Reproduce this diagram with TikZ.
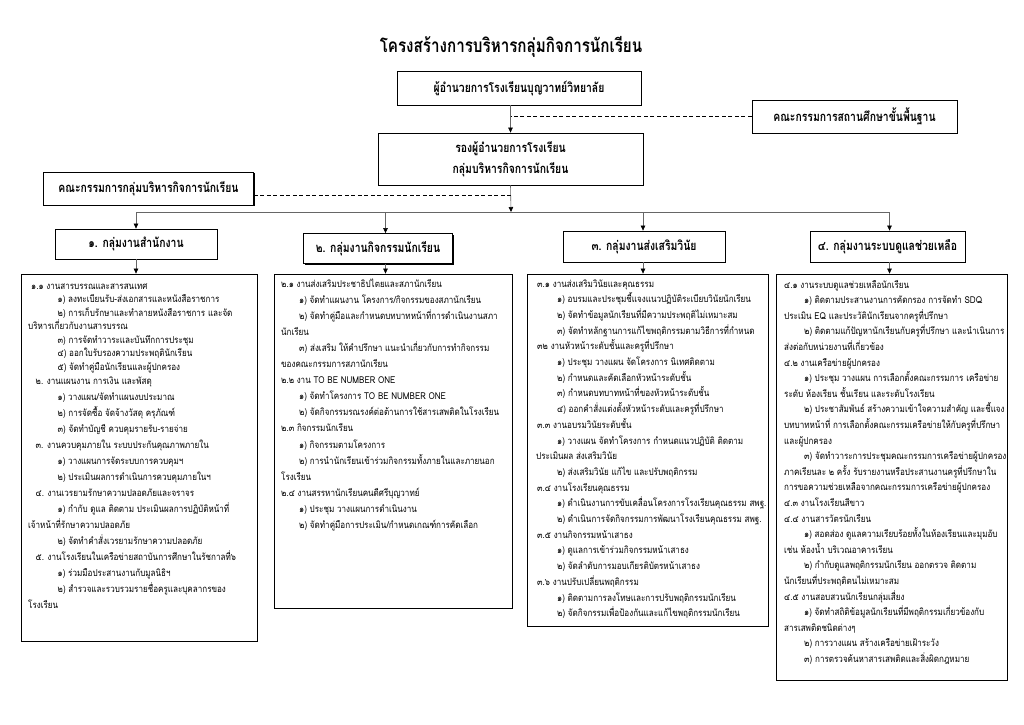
\documentclass[tikz,border=0pt]{standalone}
\usepackage{fontspec}
\setmainfont[Script=Thai]{Loma}
\newfontfamily\thhead[Script=Thai,FakeStretch=0.8]{Loma}
\newfontfamily\thbody[Script=Thai,FakeStretch=0.85]{Loma}
\usetikzlibrary{arrows.meta,shadows}
\begin{document}
\begin{tikzpicture}[x=1pt,y=-1pt,
  box/.style={draw=black,line width=0.8pt,fill=white,inner sep=0pt,align=center,
    drop shadow={shadow xshift=1.4pt,shadow yshift=-1.4pt,fill=black,opacity=1}},
  hfont/.style={font=\thhead\bfseries\fontsize{13}{21}\selectfont},
  conn/.style={draw=black!60,line width=0.6pt},
  arr/.style={conn,-{Triangle[length=5pt,width=4.5pt,color=black]}},
  dashline/.style={draw=black,line width=0.9pt,dash pattern=on 4pt off 2.5pt},
  txt/.style={anchor=base west,inner sep=0pt,font=\thbody\fontsize{9.5}{12}\selectfont}
]
\fill[white] (0,0) rectangle (1024,724);
\useasboundingbox (0,0) rectangle (1024,724);

\node[font=\thhead\bfseries\fontsize{19}{22}\selectfont] (title) at (511,47) {โครงสร้างการบริหารกลุ่มกิจการนักเรียน};

\node[box,hfont,minimum width=244pt,minimum height=34pt] (A) at (519,88) {ผู้อำนวยการโรงเรียนบุญวาทย์วิทยาลัย};
\node[box,hfont,minimum width=205pt,minimum height=33pt] (B) at (854.5,116.5) {คณะกรรมการสถานศึกษาขั้นพื้นฐาน};
\node[box,hfont,minimum width=265pt,minimum height=52pt] (C) at (510.5,159) {รองผู้อำนวยการโรงเรียน\\กลุ่มบริหารกิจการนักเรียน};
\node[box,hfont,minimum width=210pt,minimum height=33pt] (D) at (148.5,188.5) {คณะกรรมการกลุ่มบริหารกิจการนักเรียน};

\node[box,hfont,minimum width=162pt,minimum height=30pt] (G1) at (136,244) {๑. กลุ่มงานสำนักงาน};
\node[box,hfont,minimum width=149pt,minimum height=30pt] (G2) at (378,248.5) {๒. กลุ่มงานกิจกรรมนักเรียน};
\node[box,hfont,minimum width=162pt,minimum height=31pt] (G3) at (644,246.5) {๓. กลุ่มงานส่งเสริมวินัย};
\node[box,hfont,minimum width=155pt,minimum height=31pt] (G4) at (887.5,246.5) {๔. กลุ่มงานระบบดูแลช่วยเหลือ};

\node[box,minimum width=236pt,minimum height=367pt] (P1) at (139,457.5) {};
\node[box,minimum width=238pt,minimum height=334pt] (P2) at (393,441) {};
\node[box,minimum width=241pt,minimum height=352pt] (P3) at (647.5,450) {};
\node[box,minimum width=231pt,minimum height=406pt] (P4) at (891.5,477) {};

% connectors
\draw[arr] (C.north |- A.south) -- (C.north);
\draw[dashline] (B.west) -- (B.west -| C.north);
\coordinate (bar) at (511,212);
\draw[arr] (C.south) -- (bar);
\draw[dashline] ([yshift=-6.5pt]D.east) -- ([yshift=-6.5pt]D.east -| C.south);
\coordinate (b1) at (136,212);
\coordinate (b2) at (385.5,212);
\coordinate (b3) at (643,212);
\coordinate (b4) at (889.5,212);
\draw[conn] (b1) -- (b4);
\draw[arr] (b1) -- (b1 |- G1.north);
\draw[arr] (b2) -- (b2 |- G2.north);
\draw[arr] (b3) -- (b3 |- G3.north);
\draw[arr] (b4) -- (b4 |- G4.north);
\draw[arr] (b1 |- G1.south) -- (b1 |- P1.north);
\draw[arr] (b2 |- G2.south) -- (b2 |- P2.north);
\draw[arr] (b3 |- G3.south) -- (b3 |- P3.north);
\draw[arr] (b4 |- G4.south) -- (b4 |- P4.north);

% column 1
\foreach \x/\y/\t [count=\i] in {
 31/286/{๑.๑ งานสารบรรณและสารสนเทศ},
 57.5/299.5/{๑) ลงทะเบียนรับ-ส่งเอกสารและหนังสือราชการ},
 57.5/313/{๒) การเก็บรักษาและทำลายหนังสือราชการ และจัด},
 28/326.5/{บริหารเกี่ยวกับงานสารบรรณ},
 57.5/340/{๓) การจัดทำวาระและบันทึกการประชุม},
 57.5/353.5/{๔) ออกใบรับรองความประพฤตินักเรียน},
 57.5/367/{๕) จัดทำคู่มือนักเรียนและผู้ปกครอง},
 35.5/381/{๒. งานแผนงาน การเงิน และพัสดุ},
 57.5/397/{๑) วางแผน/จัดทำแผนงบประมาณ},
 57.5/413/{๒) การจัดซื้อ จัดจ้างวัสดุ ครุภัณฑ์},
 57.5/429/{๓) จัดทำบัญชี ควบคุมรายรับ-รายจ่าย},
 35.5/445/{๓. งานควบคุมภายใน ระบบประกันคุณภาพภายใน},
 57.5/461/{๑) วางแผนการจัดระบบการควบคุมฯ},
 57.5/477/{๒) ประเมินผลการดำเนินการควบคุมภายในฯ},
 35.5/493/{๔. งานเวรยามรักษาความปลอดภัยและจราจร},
 57.5/509/{๑) กำกับ ดูแล ติดตาม ประเมินผลการปฏิบัติหน้าที่},
 28/525/{เจ้าหน้าที่รักษาความปลอดภัย},
 57.5/541/{๒) จัดทำคำสั่งเวรยามรักษาความปลอดภัย},
 35.5/557/{๕. งานโรงเรียนในเครือข่ายสถาบันการศึกษาในรัชกาลที่๖},
 57.5/573/{๑) ร่วมมือประสานงานกับมูลนิธิฯ},
 57.5/589/{๒) สำรวจและรวบรวมรายชื่อครูและบุคลากรของ},
 28/605/{โรงเรียน}}
 {\node[txt] (pa\i) at (\x,\y+3) {\t};}

% column 2
\foreach \x/\t [count=\i from 0] in {
 281/{๒.๑ งานส่งเสริมประชาธิปไตยและสภานักเรียน},
 299/{๑) จัดทำแผนงาน โครงการ/กิจกรรมของสภานักเรียน},
 299/{๒) จัดทำคู่มือและกำหนดบทบาทหน้าที่การดำเนินงานสภา},
 281/{นักเรียน},
 299/{๓) ส่งเสริม ให้คำปรึกษา แนะนำเกี่ยวกับการทำกิจกรรม},
 281/{ของคณะกรรมการสภานักเรียน},
 281/{๒.๒ งาน TO BE NUMBER ONE},
 299/{๑) จัดทำโครงการ TO BE NUMBER ONE},
 299/{๒) จัดกิจกรรมรณรงค์ต่อต้านการใช้สารเสพติดในโรงเรียน},
 281/{๒.๓ กิจกรรมนักเรียน},
 299/{๑) กิจกรรมตามโครงการ},
 299/{๒) การนำนักเรียนเข้าร่วมกิจกรรมทั้งภายในและภายนอก},
 281/{โรงเรียน},
 281/{๒.๔ งานสรรหานักเรียนคนดีศรีบุญวาทย์},
 299/{๑) ประชุม วางแผนการดำเนินงาน},
 299/{๒) จัดทำคู่มือการประเมิน/กำหนดเกณฑ์การคัดเลือก}}
 {\node[txt] (pb\i) at (\x,287+16.1*\i) {\t};}

% column 3
\foreach \x/\t [count=\i from 0] in {
 537/{๓.๑ งานส่งเสริมวินัยและคุณธรรม},
 557/{๑) อบรมและประชุมชี้แจงแนวปฏิบัติระเบียบวินัยนักเรียน},
 557/{๒) จัดทำข้อมูลนักเรียนที่มีความประพฤติไม่เหมาะสม},
 557/{๓) จัดทำหลักฐานการแก้ไขพฤติกรรมตามวิธีการที่กำหนด},
 537/{๓๒ งานหัวหน้าระดับชั้นและครูที่ปรึกษา},
 557/{๑) ประชุม วางแผน จัดโครงการ นิเทศติดตาม},
 557/{๒) กำหนดและคัดเลือกหัวหน้าระดับชั้น},
 557/{๓) กำหนดบทบาทหน้าที่ของหัวหน้าระดับชั้น},
 557/{๔) ออกคำสั่งแต่งตั้งหัวหน้าระดับและครูที่ปรึกษา},
 537/{๓.๓ งานอบรมวินัยระดับชั้น},
 557/{๑) วางแผน จัดทำโครงการ กำหนดแนวปฏิบัติ ติดตาม},
 536/{ประเมินผล ส่งเสริมวินัย},
 557/{๒) ส่งเสริมวินัย แก้ไข และปรับพฤติกรรม},
 537/{๓.๔ งานโรงเรียนคุณธรรม},
 557/{๑) ดำเนินงานการขับเคลื่อนโครงการโรงเรียนคุณธรรม สพฐ.},
 557/{๒) ดำเนินการจัดกิจกรรมการพัฒนาโรงเรียนคุณธรรม สพฐ.},
 537/{๓.๕ งานกิจกรรมหน้าเสาธง},
 557/{๑) ดูแลการเข้าร่วมกิจกรรมหน้าเสาธง},
 557/{๒) จัดลำดับการมอบเกียรติบัตรหน้าเสาธง},
 537/{๓.๖ งานปรับเปลี่ยนพฤติกรรม},
 557/{๑) ติดตามการลงโทษและการปรับพฤติกรรมนักเรียน},
 557/{๒) จัดกิจกรรมเพื่อป้องกันและแก้ไขพฤติกรรมนักเรียน}}
 {\node[txt] (pc\i) at (\x,287+15.7*\i) {\t};}

% column 4
\foreach \x/\t [count=\i from 0] in {
 784/{๔.๑ งานระบบดูแลช่วยเหลือนักเรียน},
 804/{๑) ติดตามประสานงานการคัดกรอง การจัดทำ SDQ},
 784/{ประเมิน EQ และประวัตินักเรียนจากครูที่ปรึกษา},
 804/{๒) ติดตามแก้ปัญหานักเรียนกับครูที่ปรึกษา และนำเนินการ},
 784/{ส่งต่อกับหน่วยงานที่เกี่ยวข้อง},
 784/{๔.๒ งานเครือข่ายผู้ปกครอง},
 804/{๑) ประชุม วางแผน การเลือกตั้งคณะกรรมการ เครือข่าย},
 784/{ระดับ ห้องเรียน ชั้นเรียน และระดับโรงเรียน},
 804/{๒) ประชาสัมพันธ์ สร้างความเข้าใจความสำคัญ และชี้แจง},
 784/{บทบาทหน้าที่ การเลือกตั้งคณะกรรมเครือข่ายให้กับครูที่ปรึกษา},
 784/{และผู้ปกครอง},
 804/{๓) จัดทำวาระการประชุมคณะกรรมการเครือข่ายผู้ปกครอง},
 784/{ภาคเรียนละ ๒ ครั้ง รับรายงานหรือประสานงานครูที่ปรึกษาใน},
 784/{การขอความช่วยเหลือจากคณะกรรมการเครือข่ายผู้ปกครอง},
 784/{๔.๓ งานโรงเรียนสีขาว},
 784/{๔.๔ งานสารวัตรนักเรียน},
 804/{๑) สอดส่อง ดูแลความเรียบร้อยทั้งในห้องเรียนและมุมอับ},
 784/{เช่น ห้องน้ำ บริเวณอาคารเรียน},
 804/{๒) กำกับดูแลพฤติกรรมนักเรียน ออกตรวจ ติดตาม},
 784/{นักเรียนที่ประพฤติตนไม่เหมาะสม},
 784/{๔.๕ งานสอบสวนนักเรียนกลุ่มเสี่ยง},
 804/{๑) จัดทำสถิติข้อมูลนักเรียนที่มีพฤติกรรมเกี่ยวข้องกับ},
 784/{สารเสพติดชนิดต่างๆ},
 804/{๒) การวางแผน สร้างเครือข่ายเฝ้าระวัง},
 804/{๓) การตรวจค้นหาสารเสพติดและสิ่งผิดกฎหมาย}}
 {\node[txt] (pd\i) at (\x,288+15.6*\i) {\t};}
\end{tikzpicture}
\end{document}
